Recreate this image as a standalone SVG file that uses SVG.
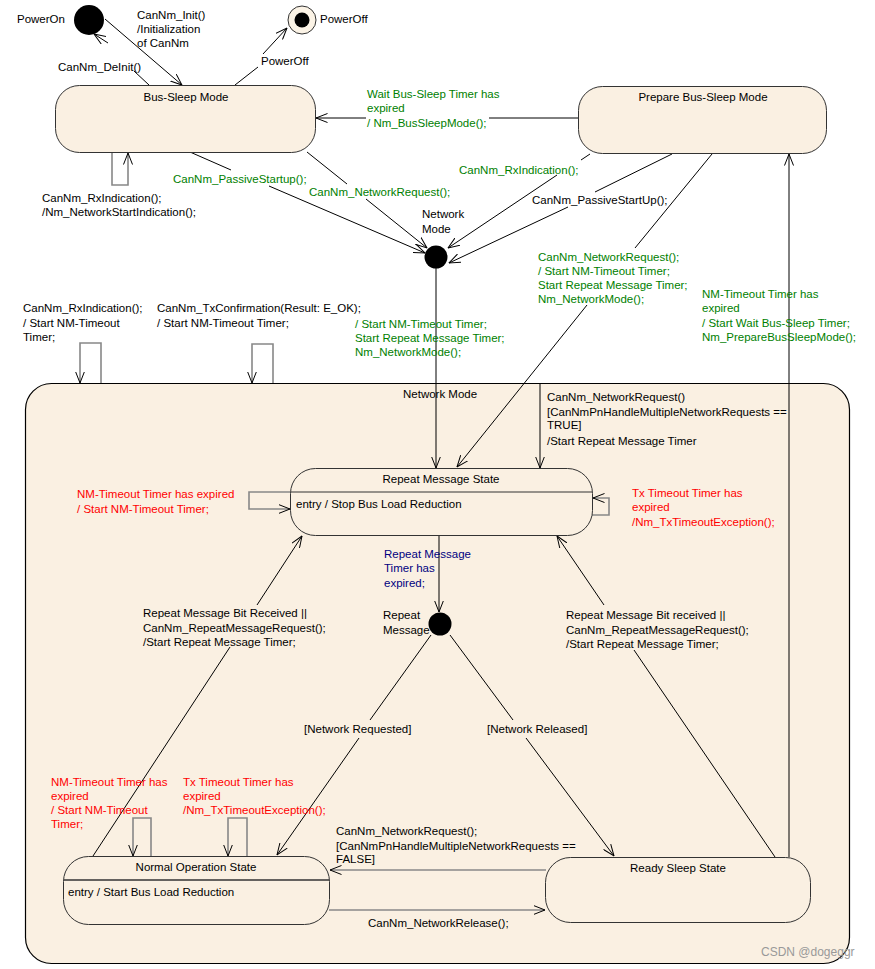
<svg xmlns="http://www.w3.org/2000/svg" width="875" height="969" viewBox="0 0 875 969">
<style>
text{font-family:"Liberation Sans",Arial,sans-serif;font-size:11.5px;fill:#000}
.g{fill:#008000}.r{fill:#ff0000}.b{fill:#000080}
.st{fill:#faf0e2;stroke:#333;stroke-width:1}
.c{fill:none;stroke:#000;stroke-width:1}
.lp{fill:none;stroke:#888;stroke-width:1.6}
.mid{text-anchor:middle}
</style>
<defs>
<marker id="a" viewBox="0 0 12 10" refX="11.5" refY="5" markerWidth="12" markerHeight="10" markerUnits="userSpaceOnUse" orient="auto"><path d="M0,0.5 L11.5,5 L0,9.5" fill="none" stroke="#000" stroke-width="1"/></marker>
</defs>
<rect width="875" height="969" fill="#fff"/>
<g id="network-mode-composite">
<rect x="25.5" y="383.5" width="824" height="580" rx="26" fill="#faf0e2" stroke="#000" stroke-width="1.2"/>
<text x="403" y="398">Network Mode</text>
</g>
<g id="connectors">
<line class="c" x1="105" y1="19" x2="182" y2="85" marker-end="url(#a)"/>
<line class="c" x1="149" y1="85" x2="134" y2="71"/>
<line class="c" x1="108" y1="43" x2="94" y2="34" marker-end="url(#a)"/>
<line class="c" x1="235" y1="85" x2="258" y2="67"/>
<line class="c" x1="263" y1="54" x2="287" y2="28" marker-end="url(#a)"/>
<polyline class="lp" points="112,152 112,185 128,185 128,153" marker-end="url(#a)"/>
<line class="c" x1="190" y1="152" x2="231" y2="170"/>
<line class="c" x1="269" y1="186" x2="425" y2="253" marker-end="url(#a)"/>
<line class="c" x1="307" y1="152" x2="347" y2="184"/>
<line class="c" x1="366" y1="199" x2="427" y2="248" marker-end="url(#a)"/>
<line class="c" x1="578" y1="118" x2="489" y2="118"/>
<line class="c" x1="366" y1="118" x2="316" y2="118" marker-end="url(#a)"/>
<line class="c" x1="590" y1="154" x2="581" y2="160"/>
<line class="c" x1="557" y1="175" x2="448" y2="248" marker-end="url(#a)"/>
<line class="c" x1="672" y1="154" x2="595" y2="192"/>
<line class="c" x1="568" y1="207" x2="449" y2="263" marker-end="url(#a)"/>
<line class="c" x1="712" y1="154" x2="635" y2="248"/>
<line class="c" x1="587" y1="305" x2="457" y2="467" marker-end="url(#a)"/>
<line class="c" x1="436" y1="268" x2="436" y2="468" marker-end="url(#a)"/>
<polyline class="lp" points="101,383 101,343 80,343 80,383" marker-end="url(#a)"/>
<polyline class="lp" points="273,383 273,344 252,344 252,383" marker-end="url(#a)"/>
<line class="c" x1="540" y1="384" x2="540" y2="468" marker-end="url(#a)"/>
<polyline class="lp" points="290,492 249,492 249,509 290,509" marker-end="url(#a)"/>
<polyline class="lp" points="592,515 609,515 609,498 593,498" marker-end="url(#a)"/>
<line class="c" x1="439" y1="536" x2="439" y2="612" marker-end="url(#a)"/>
<line class="c" x1="93" y1="856" x2="230" y2="647"/>
<line class="c" x1="257" y1="605" x2="302" y2="536" marker-end="url(#a)"/>
<line class="c" x1="775" y1="857" x2="634" y2="650"/>
<line class="c" x1="604" y1="605" x2="557" y2="536" marker-end="url(#a)"/>
<line class="c" x1="431" y1="635" x2="370" y2="720"/>
<line class="c" x1="359" y1="738" x2="277" y2="855" marker-end="url(#a)"/>
<line class="c" x1="450" y1="635" x2="513" y2="720"/>
<line class="c" x1="526" y1="738" x2="614" y2="856" marker-end="url(#a)"/>
<line class="lp" x1="546" y1="870" x2="330" y2="870" marker-end="url(#a)"/>
<line class="lp" x1="329" y1="910" x2="545" y2="910" marker-end="url(#a)"/>
<polyline class="lp" points="151,856 151,818 133,818 133,856" marker-end="url(#a)"/>
<polyline class="lp" points="247,856 247,818 228,818 228,856" marker-end="url(#a)"/>
<line class="c" x1="789" y1="857" x2="789" y2="154" marker-end="url(#a)"/>
</g>
<g id="power-on">
<circle cx="89" cy="20" r="15" fill="#000"/>
<text x="17" y="23">PowerOn</text>
</g>
<g id="power-off">
<circle cx="302" cy="20" r="14" fill="#fbf3e6" stroke="#333" stroke-width="1"/>
<circle cx="302" cy="20" r="7.5" fill="#000"/>
<text x="320" y="23">PowerOff</text>
</g>
<g id="bus-sleep-mode">
<rect class="st" x="55.5" y="85.5" width="260" height="67" rx="24"/>
<text class="mid" x="186" y="101">Bus-Sleep Mode</text>
</g>
<g id="prepare-bus-sleep-mode">
<rect class="st" x="578.5" y="86.5" width="248" height="67" rx="24"/>
<text class="mid" x="703" y="101">Prepare Bus-Sleep Mode</text>
</g>
<g id="network-mode-junction">
<circle cx="436" cy="257" r="11.5" fill="#000"/>
<text x="422" y="218">Network</text>
<text x="422" y="233">Mode</text>
</g>
<g id="repeat-message-state">
<rect class="st" x="290.5" y="468.5" width="302" height="67" rx="25"/>
<line x1="291" y1="492" x2="592" y2="492" stroke="#333" stroke-width="1"/>
<text class="mid" x="441" y="483">Repeat Message State</text>
<text x="296" y="508">entry / Stop Bus Load Reduction</text>
</g>
<g id="repeat-message-junction">
<circle cx="440" cy="624" r="11.5" fill="#000"/>
<text x="383" y="619">Repeat</text>
<text x="383" y="634">Message</text>
</g>
<g id="normal-operation-state">
<rect class="st" x="63.5" y="856.5" width="266" height="68" rx="25"/>
<line x1="64" y1="880" x2="329" y2="880" stroke="#333" stroke-width="1.5"/>
<text class="mid" x="196" y="871">Normal Operation State</text>
<text x="68" y="896">entry / Start Bus Load Reduction</text>
</g>
<g id="ready-sleep-state">
<rect class="st" x="545.5" y="857.5" width="265" height="65" rx="25"/>
<text class="mid" x="678" y="872">Ready Sleep State</text>
</g>
<g id="labels">
<text x="137" y="19">CanNm_Init()</text>
<text x="137" y="33">/Initialization</text>
<text x="137" y="47">of CanNm</text>
<text x="58" y="71">CanNm_DeInit()</text>
<text x="261" y="65">PowerOff</text>
<text x="42" y="202">CanNm_RxIndication();</text>
<text x="42" y="216">/Nm_NetworkStartIndication();</text>
<text class="g" x="173" y="183">CanNm_PassiveStartup();</text>
<text class="g" x="309" y="196">CanNm_NetworkRequest();</text>
<text class="g" x="367" y="98">Wait Bus-Sleep Timer has</text>
<text class="g" x="367" y="112">expired</text>
<text class="g" x="367" y="127">/ Nm_BusSleepMode();</text>
<text class="g" x="459" y="174">CanNm_RxIndication();</text>
<text x="532" y="204">CanNm_PassiveStartUp();</text>
<text class="g" x="538" y="261">CanNm_NetworkRequest();</text>
<text class="g" x="538" y="275">/ Start NM-Timeout Timer;</text>
<text class="g" x="538" y="289">Start Repeat Message Timer;</text>
<text class="g" x="538" y="303">Nm_NetworkMode();</text>
<text class="g" x="702" y="298">NM-Timeout Timer has</text>
<text class="g" x="702" y="312">expired</text>
<text class="g" x="702" y="327">/ Start Wait Bus-Sleep Timer;</text>
<text class="g" x="702" y="341">Nm_PrepareBusSleepMode();</text>
<text x="23" y="312">CanNm_RxIndication();</text>
<text x="23" y="327">/ Start NM-Timeout</text>
<text x="23" y="341">Timer;</text>
<text x="157" y="312">CanNm_TxConfirmation(Result: E_OK);</text>
<text x="157" y="327">/ Start NM-Timeout Timer;</text>
<text class="g" x="355" y="328">/ Start NM-Timeout Timer;</text>
<text class="g" x="355" y="342">Start Repeat Message Timer;</text>
<text class="g" x="355" y="356">Nm_NetworkMode();</text>
<text x="547" y="401">CanNm_NetworkRequest()</text>
<text x="547" y="416">[CanNmPnHandleMultipleNetworkRequests ==</text>
<text x="547" y="429">TRUE]</text>
<text x="547" y="445">/Start Repeat Message Timer</text>
<text class="r" x="77" y="498">NM-Timeout Timer has expired</text>
<text class="r" x="77" y="513">/ Start NM-Timeout Timer;</text>
<text class="r" x="632" y="497">Tx Timeout Timer has</text>
<text class="r" x="632" y="511">expired</text>
<text class="r" x="632" y="526">/Nm_TxTimeoutException();</text>
<text class="b" x="384" y="558">Repeat Message</text>
<text class="b" x="384" y="572">Timer has</text>
<text class="b" x="384" y="587">expired;</text>
<text x="143" y="617">Repeat Message Bit Received ||</text>
<text x="143" y="632">CanNm_RepeatMessageRequest();</text>
<text x="143" y="646">/Start Repeat Message Timer;</text>
<text x="566" y="619">Repeat Message Bit received ||</text>
<text x="566" y="634">CanNm_RepeatMessageRequest();</text>
<text x="566" y="648">/Start Repeat Message Timer;</text>
<text x="304" y="733">[Network Requested]</text>
<text x="487" y="733">[Network Released]</text>
<text class="r" x="51" y="786">NM-Timeout Timer has</text>
<text class="r" x="51" y="800">expired</text>
<text class="r" x="51" y="814">/ Start NM-Timeout</text>
<text class="r" x="51" y="828">Timer;</text>
<text class="r" x="183" y="786">Tx Timeout Timer has</text>
<text class="r" x="183" y="800">expired</text>
<text class="r" x="183" y="814">/Nm_TxTimeoutException();</text>
<text x="336" y="835">CanNm_NetworkRequest();</text>
<text x="336" y="850">[CanNmPnHandleMultipleNetworkRequests ==</text>
<text x="336" y="863">FALSE]</text>
<text x="368" y="927">CanNm_NetworkRelease();</text>
<text x="761" y="956" style="fill:#999;font-size:12px">CSDN @dogeggr</text>
</g>
</svg>
